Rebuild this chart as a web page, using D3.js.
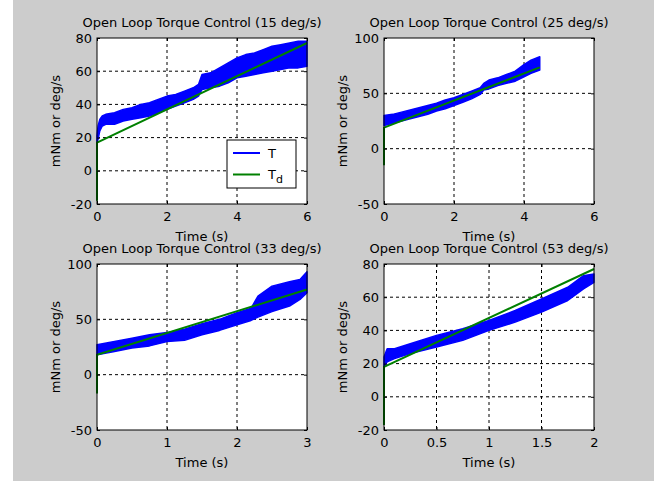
<!DOCTYPE html>
<html>
<head>
<meta charset="utf-8">
<script src="https://cdn.jsdelivr.net/npm/d3@7"></script>
<style>
  body { margin: 0; background: #fff; }
  svg text { font-family: "DejaVu Sans", Arial, sans-serif; font-size: 13px; fill: #000; }
</style>
</head>
<body>
<svg width="667" height="481"></svg>
<script>
// titles
const titles = [
  "Open Loop Torque Control (15 deg/s)",
  "Open Loop Torque Control (25 deg/s)",
  "Open Loop Torque Control (33 deg/s)",
  "Open Loop Torque Control (53 deg/s)"
];

const t15 = [0, 0.03, 0.08, 0.15, 0.25, 0.5, 0.75, 1, 1.25, 1.5, 1.75, 2, 2.25, 2.5, 2.75, 2.9, 3, 3.25, 3.5, 3.75, 4, 4.25, 4.5, 4.75, 5, 5.25, 5.5, 5.75, 6];
const hi15 = [21, 27, 31, 33, 34, 35, 37, 38, 40, 41, 43, 45, 46, 48, 50, 52, 58, 59, 62, 65, 68, 70, 71, 73, 75, 76, 77, 78, 78];
const lo15 = [17, 19, 24, 27, 28, 28, 30, 31, 32, 33, 35, 37, 39, 41, 43, 45, 49, 50, 51, 53, 56, 57, 58, 59, 60, 61, 62, 62, 63];

const t25 = [0, 0.25, 0.5, 0.75, 1, 1.25, 1.5, 1.75, 2, 2.25, 2.5, 2.75, 2.85, 3, 3.25, 3.5, 3.75, 4, 4.2, 4.45];
const hi25 = [30, 31, 33, 35, 37, 39, 41, 44, 46, 49, 52, 55, 59, 62, 64, 67, 70, 76, 80, 83];
const lo25 = [21, 23, 25, 27, 29, 31, 34, 36, 39, 42, 45, 49, 53, 54, 57, 59, 61, 65, 68, 71];

const t33 = [0, 0.25, 0.5, 0.75, 1, 1.25, 1.5, 1.75, 2, 2.2, 2.3, 2.5, 2.75, 2.9, 3];
const hi33 = [27, 30, 33, 36, 38, 41, 46, 50, 56, 60, 71, 80, 84, 86, 93];
const lo33 = [18, 21, 24, 26, 30, 31, 36, 40, 45, 49, 52, 57, 62, 68, 74];

const t53 = [0, 0.03, 0.1, 0.25, 0.5, 0.75, 1, 1.25, 1.5, 1.75, 1.9, 2];
const hi53 = [24, 29, 29, 32, 37, 41, 46, 52, 59, 66, 73, 74];
const lo53 = [18, 21, 23, 26, 30, 34, 40, 45, 51, 58, 65, 69];

// T_d (desired torque)
const tdT15 = [0, 0, 6],    tdV15 = [-18, 17, 77];
const tdT25 = [0, 0, 4.45], tdV25 = [-15, 19, 73.5];
const tdT33 = [0, 0, 3],    tdV33 = [-17, 18, 77];
const tdT53 = [0, 0, 2],    tdV53 = [-17, 18, 77];

// tick values
const xTicks15 = [0, 2, 4, 6],  yTicks15 = [-20, 0, 20, 40, 60, 80];
const xTicks25 = [0, 2, 4, 6],  yTicks25 = [-50, 0, 50, 100];
const xTicks33 = [0, 1, 2, 3],  yTicks33 = [-50, 0, 50, 100];
const xTicks53 = [0, 0.5, 1, 1.5, 2], yTicks53 = [-20, 0, 20, 40, 60, 80];

const legendLabels = ["T", "T"];

const svg = d3.select("svg");
svg.append("rect").attr("x", 13).attr("y", 0).attr("width", 641).attr("height", 481).attr("fill", "#cccccc");

const panels = [
  {title: titles[0], t: t15, hi: hi15, lo: lo15, tdT: tdT15, tdV: tdV15, xt: xTicks15, yt: yTicks15, left: 97,  top: 38,  legend: true},
  {title: titles[1], t: t25, hi: hi25, lo: lo25, tdT: tdT25, tdV: tdV25, xt: xTicks25, yt: yTicks25, left: 384, top: 38},
  {title: titles[2], t: t33, hi: hi33, lo: lo33, tdT: tdT33, tdV: tdV33, xt: xTicks33, yt: yTicks33, left: 97,  top: 264},
  {title: titles[3], t: t53, hi: hi53, lo: lo53, tdT: tdT53, tdV: tdV53, xt: xTicks53, yt: yTicks53, left: 384, top: 264}
];
const w = 210, h = 166;

panels.forEach(p => {
  const x = d3.scaleLinear().domain(d3.extent(p.xt)).range([0, w]);
  const y = d3.scaleLinear().domain(d3.extent(p.yt)).range([h, 0]);
  const g = svg.append("g").attr("transform", `translate(${p.left},${p.top})`);

  g.append("rect").attr("width", w).attr("height", h).attr("fill", "#fff");

  // grid
  const xg = p.xt.slice(1, -1), yg = p.yt.slice(1, -1);
  g.append("g").selectAll("line").data(xg).join("line")
    .attr("x1", d => x(d)).attr("x2", d => x(d)).attr("y1", 0).attr("y2", h);
  g.append("g").selectAll("line").data(yg).join("line")
    .attr("y1", d => y(d)).attr("y2", d => y(d)).attr("x1", 0).attr("x2", w);
  g.selectAll("line").attr("stroke", "#000").attr("stroke-width", 1).attr("stroke-dasharray", "3,3");

  // T
  const idx = d3.range(p.t.length);
  g.append("path")
    .attr("d", d3.area().x(i => x(p.t[i])).y0(i => y(p.lo[i])).y1(i => y(p.hi[i]))(idx))
    .attr("fill", "#0000ff").attr("stroke", "#0000ff").attr("stroke-width", 1.5).attr("stroke-linejoin", "round");

  // T_d
  g.append("path")
    .attr("d", d3.line().x(i => x(p.tdT[i])).y(i => y(p.tdV[i]))(d3.range(p.tdT.length)))
    .attr("fill", "none").attr("stroke", "#008000").attr("stroke-width", 2);

  // axes (ticks inward, box on)
  const fmt = d => String(d);
  const ax = (gen, tr) => g.append("g").attr("transform", tr).call(gen)
    .call(s => s.select(".domain").remove())
    .call(s => s.selectAll("line").attr("stroke", "#000"))
    .call(s => s.selectAll("text").attr("font-size", null).attr("font-family", null).attr("fill", "#000"));
  ax(d3.axisBottom(x).tickValues(p.xt).tickSize(-3).tickPadding(8).tickFormat(fmt), `translate(0,${h})`);
  ax(d3.axisLeft(y).tickValues(p.yt).tickSize(-3).tickPadding(5).tickFormat(fmt), "translate(0,0)");
  ax(d3.axisTop(x).tickValues(p.xt).tickSize(-3).tickFormat(""), "translate(0,0)");
  ax(d3.axisRight(y).tickValues(p.yt).tickSize(-3).tickFormat(""), `translate(${w},0)`);

  g.append("rect").attr("width", w).attr("height", h).attr("fill", "none").attr("stroke", "#000");

  g.append("text").attr("x", w / 2).attr("y", -11).attr("text-anchor", "middle").text(p.title);
  g.append("text").attr("x", w / 2).attr("y", h + 37).attr("text-anchor", "middle").text("Time (s)");
  g.append("text").attr("transform", `translate(-37,${h / 2}) rotate(-90)`).attr("text-anchor", "middle").text("mNm or deg/s");

  if (p.legend) {
    const lg = g.append("g").attr("transform", "translate(130,102)");
    lg.append("rect").attr("width", 69).attr("height", 48).attr("fill", "#fff").attr("stroke", "#000");
    const cols = ["#0000ff", "#008000"];
    [0, 1].forEach(k => {
      const ly = 13 + k * 21.5;
      lg.append("line").attr("x1", 6).attr("x2", 33).attr("y1", ly).attr("y2", ly)
        .attr("stroke", cols[k]).attr("stroke-width", 2);
      const tx = lg.append("text").attr("x", 41).attr("y", ly).attr("dy", "0.35em").text(legendLabels[k]);
      if (k === 1) tx.append("tspan").attr("dy", "4").attr("font-size", "11px").text("d");
    });
  }
});
</script>
</body>
</html>
